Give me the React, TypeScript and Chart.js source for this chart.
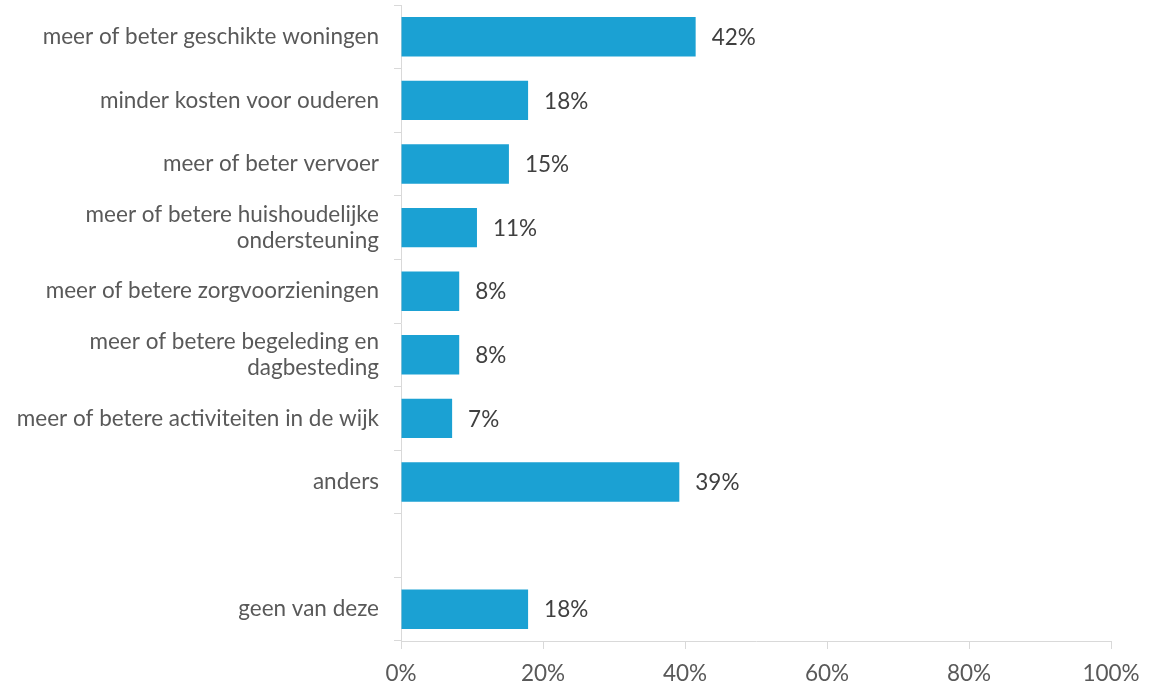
import React, { useEffect, useRef } from "react";
import { Chart, registerables } from "chart.js";

Chart.register(...registerables);

const categories: (string | string[])[] = [
  "meer of beter geschikte woningen",
  "minder kosten voor ouderen",
  "meer of beter vervoer",
  ["meer of betere huishoudelijke", "ondersteuning"],
  "meer of betere zorgvoorzieningen",
  ["meer of betere begeleding en", "dagbesteding"],
  "meer of betere activiteiten in de wijk",
  "anders",
  "",
  "geen van deze",
];

const values: (number | null)[] = [41.5, 17.9, 15.2, 10.7, 8.2, 8.2, 7.2, 39.2, null, 17.9];

const xTicks = [0, 20, 40, 60, 80, 100];

const FONT = "Lato, 'Open Sans', sans-serif";

export default function App() {
  const ref = useRef<HTMLCanvasElement>(null);
  useEffect(() => {
    document.body.style.margin = "0";
    const labelPlugin = {
      id: "valueLabels",
      afterDatasetsDraw(chart: any) {
        const ctx = chart.ctx;
        const meta = chart.getDatasetMeta(0);
        ctx.save();
        ctx.font = `22.5px ${FONT}`;
        ctx.fillStyle = "#404040";
        ctx.textBaseline = "middle";
        ctx.textAlign = "left";
        meta.data.forEach((el: any, i: number) => {
          const v = values[i];
          if (v === null || v === undefined) return;
          ctx.fillText(`${Math.round(v)}%`, el.x + 16, el.y + 1);
        });
        ctx.restore();
      },
    };
    const chart = new Chart(ref.current!, {
      type: "bar",
      data: {
        labels: categories,
        datasets: [
          {
            data: values,
            backgroundColor: "#1BA1D3",
            borderWidth: 0,
            barPercentage: 1,
            categoryPercentage: 0.62,
          },
        ],
      },
      options: {
        indexAxis: "y",
        responsive: false,
        animation: false,
        layout: { padding: { top: 5, right: 45, left: 0, bottom: 0 } },
        plugins: { legend: { display: false }, tooltip: { enabled: false } },
        scales: {
          x: {
            min: 0,
            max: 100,
            afterBuildTicks: (s: any) => {
              s.ticks = xTicks.map((v) => ({ value: v }));
            },
            afterFit: (s: any) => {
              s.height = 42;
              s.paddingLeft = 0;
              s.paddingRight = 0;
            },
            grid: { drawOnChartArea: false, tickLength: 8, color: "#d9d9d9" },
            border: { color: "#d9d9d9" },
            ticks: {
              padding: 11,
              color: "#595959",
              font: { family: FONT, size: 22.5 },
              callback: (v: any) => `${v}%`,
            },
          },
          y: {
            afterFit: (s: any) => {
              s.width = 401;
              s.paddingTop = 0;
              s.paddingBottom = 0;
            },
            grid: { drawOnChartArea: false, tickLength: 7, color: "#d9d9d9", offset: true },
            border: { color: "#d9d9d9" },
            ticks: {
              padding: 15,
              color: "#595959",
              font: { family: FONT, size: 22.5, lineHeight: 1.13 },
              autoSkip: false,
            },
          },
        },
      },
      plugins: [labelPlugin],
    });
    return () => chart.destroy();
  }, []);
  return (
    <div style={{ position: "absolute", left: 0, top: 0, width: 1156, height: 683 }}>
      <canvas ref={ref} width={1156} height={683} />
    </div>
  );
}
